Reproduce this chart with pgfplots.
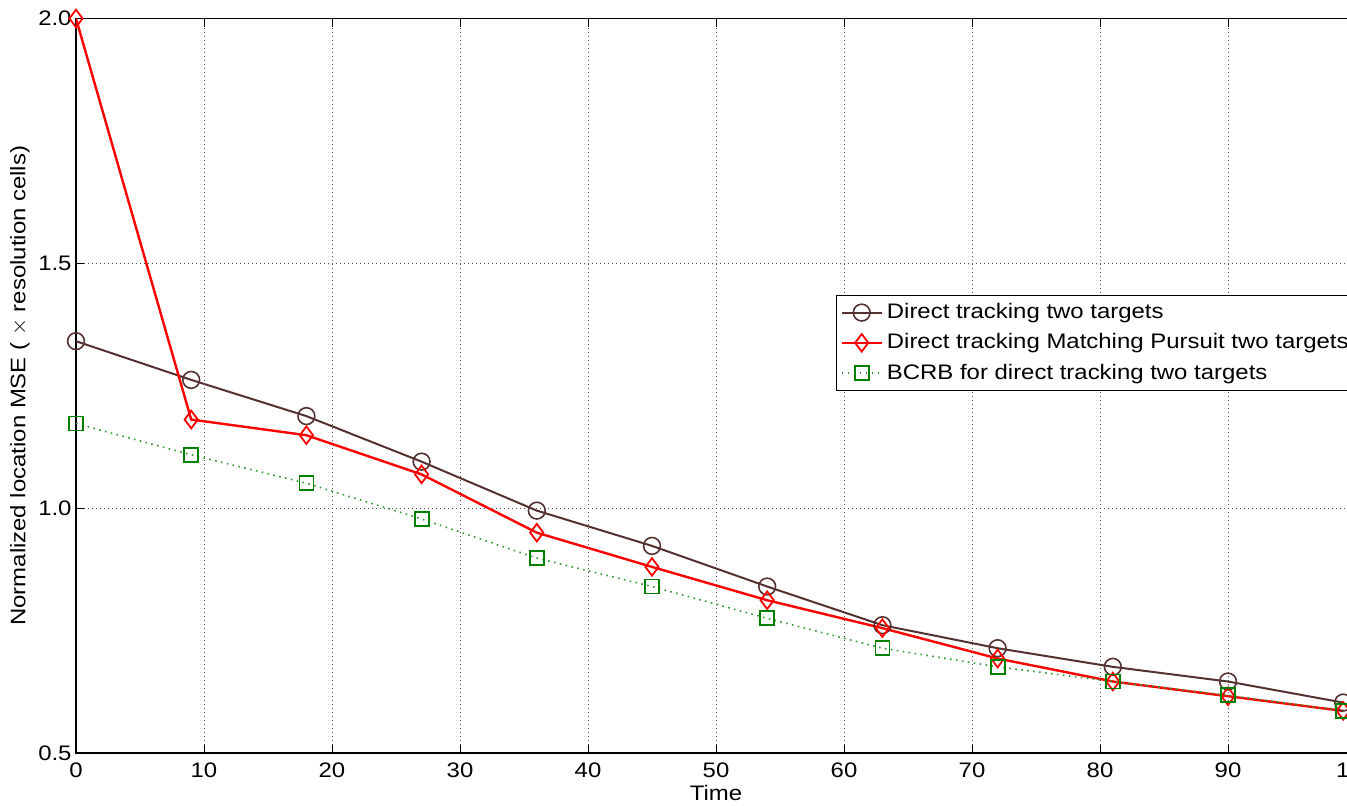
\documentclass[border=0pt]{standalone}
\usepackage{fontspec}
\setmainfont[FakeStretch=1.14]{Liberation Sans}
\usepackage{pgfplots}
\pgfplotsset{compat=1.18}
\definecolor{cbrown}{RGB}{84,50,50}
\definecolor{cgreen}{RGB}{0,128,0}
\begin{document}
\begin{tikzpicture}
\begin{axis}[
 at={(0,0)}, anchor=south west, scale only axis,
 width=640pt, height=367.25pt,
 xmin=0, xmax=100, ymin=0.5, ymax=2,
 xtick={0,10,...,100}, ytick={0.5,1,1.5,2},
 yticklabel style={/pgf/number format/fixed, /pgf/number format/fixed zerofill, /pgf/number format/precision=1, xshift=1.3pt},
 /pgf/number format/assume math mode=true,
 tick align=inside, major tick length=4pt,
 xmajorgrids, ymajorgrids,
 grid style={dash pattern=on 0.5pt off 1.5pt, black!70, line width=0.5pt},
 axis line style={black, line width=0.6pt},
 tick style={black, line width=0.5pt},
 ticklabel style={font=\fontsize{10.5}{12}\selectfont},
 xticklabel style={yshift=-1.5pt},
 xlabel={Time}, ylabel={Normalized location MSE ( $\times$ resolution cells)},
 label style={font=\fontsize{10.5}{12}\selectfont},
 xlabel style={at={(axis description cs:0.5,0)}, anchor=north, inner sep=0pt, yshift=-16pt},
 ylabel style={at={(axis description cs:0,0.5)}, anchor=center, inner sep=0pt, yshift=28pt},
 legend style={at={(rel axis cs:0.59375,0.6236)}, anchor=north west, draw=black, line width=0.5pt,
   fill=white, font=\fontsize{10.5}{12}\selectfont, row sep=2pt, inner xsep=2pt, inner ysep=2pt},
 legend cell align=left,
 legend image code/.code={\draw[mark repeat=2,mark phase=2] plot coordinates {(0pt,0pt) (10pt,0pt) (20pt,0pt)};},
]
\addplot[cbrown, line width=1pt, mark=o, mark size=4.2pt, mark options={line width=0.8pt}] coordinates {
(0,1.341) (9,1.262) (18,1.188) (27,1.095) (36,0.995) (45,0.923) (54,0.840) (63,0.761) (72,0.714) (81,0.676) (90,0.646) (99,0.603)};
\addlegendentry{Direct tracking two targets}
\addplot[red, line width=1.2pt, mark=diamond, mark size=4.4pt, mark options={line width=0.9pt}] coordinates {
(0,2.0) (9,1.181) (18,1.149) (27,1.069) (36,0.950) (45,0.880) (54,0.812) (63,0.755) (72,0.693) (81,0.646) (90,0.616) (99,0.586)};
\addlegendentry{Direct tracking Matching Pursuit two targets}
\addplot[cgreen!80, line width=0.8pt, dash pattern=on 0.8pt off 2.2pt, mark=square, mark size=3.5pt, mark options={solid, cgreen, line width=0.9pt}] coordinates {
(0,1.173) (9,1.109) (18,1.051) (27,0.978) (36,0.898) (45,0.840) (54,0.775) (63,0.714) (72,0.676) (81,0.646) (90,0.618) (99,0.586)};
\addlegendentry{BCRB for direct tracking two targets}
\end{axis}
\pgfresetboundingbox
\path[use as bounding box] (-38pt,-26pt) rectangle (635.5pt,376.5pt);
\end{tikzpicture}
\end{document}
